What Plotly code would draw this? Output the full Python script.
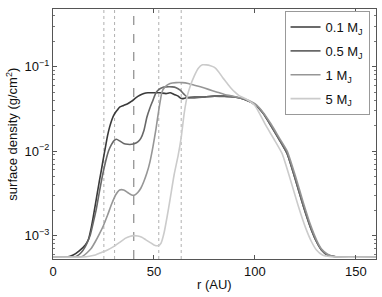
import plotly.graph_objects as go

# ---- data (surface density stored as log10 values) ----
r_01 = [0, 7, 10, 13, 16, 17.5, 19, 20, 21, 22, 23, 24, 25, 26, 27, 28, 29, 30, 31, 32,
        33, 35, 37, 39, 41, 43, 45, 47, 50, 53, 56, 58, 60, 62, 63, 64, 66, 70, 75, 80,
        85, 90, 95, 100, 104, 108, 112, 116, 120, 124, 127.5, 130.5, 133, 136, 140, 144, 160]
lg_01 = [-3.254, -3.254, -3.23, -3.18, -3.11, -3.05, -2.90, -2.77, -2.63, -2.49,
         -2.35, -2.22, -2.08, -1.95, -1.82, -1.72, -1.64, -1.58, -1.54, -1.51,
         -1.48, -1.46, -1.44, -1.41, -1.37, -1.34, -1.32, -1.31, -1.31, -1.31,
         -1.32, -1.31, -1.33, -1.35, -1.37, -1.38, -1.37, -1.36, -1.36, -1.35,
         -1.35, -1.36, -1.39, -1.45, -1.55, -1.70, -1.86, -2.03, -2.33, -2.65,
         -2.90, -3.07, -3.17, -3.23, -3.25, -3.254, -3.254]

r_05 = [0, 10, 12, 14, 16, 17, 18.5, 20, 21.5, 23, 24.5, 26, 27.5, 29, 30.5, 31.5, 33, 35, 37, 39,
        40.5, 42, 43.5, 45, 46.5, 48, 49.5, 51, 52.5, 54, 56, 59, 61, 63, 65, 67, 70, 75, 80, 85,
        90, 95, 100, 104, 108, 112, 116, 120, 124, 127.5, 130.5, 133, 136, 140, 144, 160]
lg_05 = [-3.254, -3.254, -3.24, -3.20, -3.13, -3.08, -2.99, -2.84, -2.68, -2.48,
         -2.29, -2.13, -2.00, -1.92, -1.87, -1.86, -1.88, -1.91, -1.92, -1.92,
         -1.91, -1.89, -1.85, -1.76, -1.60, -1.49, -1.40, -1.31, -1.27, -1.25,
         -1.24, -1.24, -1.25, -1.28, -1.33, -1.37, -1.37, -1.36, -1.35, -1.355,
         -1.36, -1.39, -1.45, -1.55, -1.70, -1.86, -2.03, -2.33, -2.65, -2.90,
         -3.07, -3.17, -3.23, -3.25, -3.254, -3.254]

r_1 = [0, 13, 15, 17, 19, 21, 23, 25, 27, 29, 31, 33, 35, 37, 39, 40.5, 42, 43.5, 45, 46.5,
       48, 49.5, 51, 52.5, 54, 55.5, 58, 61, 64, 67, 70, 73, 77, 81, 85, 89, 93, 97, 100, 104,
       108, 112, 116, 120, 124, 127.5, 130.5, 133, 136, 140, 144, 160]
lg_1 = [-3.254, -3.254, -3.24, -3.20, -3.15, -3.07, -2.98, -2.88, -2.76, -2.63,
        -2.52, -2.46, -2.46, -2.49, -2.52, -2.52, -2.49, -2.44, -2.36, -2.26,
        -2.13, -1.95, -1.74, -1.50, -1.30, -1.24, -1.20, -1.19, -1.19, -1.20,
        -1.22, -1.24, -1.27, -1.30, -1.33, -1.35, -1.37, -1.40, -1.44, -1.54,
        -1.68, -1.84, -2.00, -2.29, -2.61, -2.87, -3.05, -3.16, -3.22, -3.25,
        -3.254, -3.254]

r_5 = [0, 15, 18, 21, 24, 27, 30, 33, 36, 38, 40, 42, 44, 46, 48, 50, 52, 53.5, 55, 56.5,
       58, 60, 62, 63.5, 65, 66.5, 68, 70, 72, 74, 76, 78, 80, 82, 84, 86, 88, 90, 92, 96,
       100, 105.5, 109.5, 113.5, 117.5, 121.5, 125, 128, 130.5, 133.5, 137.5, 141, 160]
lg_5 = [-3.254, -3.254, -3.245, -3.23, -3.20, -3.17, -3.13, -3.08, -3.03, -3.01,
        -3.00, -3.005, -3.02, -3.05, -3.08, -3.11, -3.12, -3.09, -2.97, -2.78,
        -2.57, -2.28, -2.05, -1.84, -1.55, -1.35, -1.23, -1.11, -1.02, -0.98,
        -0.98, -0.99, -1.01, -1.06, -1.13, -1.19, -1.25, -1.30, -1.34, -1.39,
        -1.46, -1.70, -1.86, -2.03, -2.33, -2.65, -2.90, -3.07, -3.17, -3.23,
        -3.25, -3.254, -3.254]

series_names = ["0.1 M<sub>J</sub>", "0.5 M<sub>J</sub>", "1 M<sub>J</sub>", "5 M<sub>J</sub>"]
series_r = [r_01, r_05, r_1, r_5]
series_lg = [lg_01, lg_05, lg_1, lg_5]
series_colors = ["#3a3a3a", "#686868", "#969696", "#cbcbcb"]

planet_r = 40            # dashed line
resonance_r = [25.2, 30.5, 52.4, 63.5]  # dotted lines

x_ticks = [0, 50, 100, 150]
y_ticks = [1e-3, 1e-2, 1e-1]
y_ticktext = ["10<sup>−3</sup>", "10<sup>−2</sup>", "10<sup>−1</sup>"]
y_minor = [k * 10.0 ** e for e in (-4, -3, -2, -1) for k in range(2, 10)]

FONT = "Liberation Sans, Arial, sans-serif"

fig = go.Figure()

for rr in resonance_r:
    fig.add_vline(x=rr, line=dict(color="#b0b0b0", width=1, dash="dot"), layer="below")
fig.add_vline(x=planet_r, line=dict(color="#8a8a8a", width=1.2, dash="dash"), layer="below")

for i, (name, rr, lg, col) in enumerate(zip(series_names, series_r, series_lg, series_colors)):
    fig.add_trace(go.Scatter(
        x=rr, y=[10 ** v for v in lg], mode="lines", name=name, legendgroup=f"g{i}",
        line=dict(color=col, width=1.6, shape="spline", smoothing=0.5),
    ))

axis_common = dict(
    showline=True, linecolor="#555", linewidth=1, mirror="ticks", automargin=False,
    ticks="inside", tickcolor="#555", ticklen=4, showgrid=False, zeroline=False,
    tickfont=dict(family=FONT, size=13, color="#111"),
)

fig.update_xaxes(range=[0, 160], tickvals=x_ticks, **axis_common)
fig.update_yaxes(type="log", range=[-3.277, -0.319], tickvals=y_ticks, ticktext=y_ticktext,
                 minor=dict(tickvals=y_minor, ticks="inside", ticklen=2, tickcolor="#777"),
                 **axis_common)

fig.add_annotation(text="r (AU)", xref="paper", yref="paper", x=0.5, y=-0.102,
                   xanchor="center", yanchor="middle", showarrow=False,
                   font=dict(family=FONT, size=13, color="#111"))
fig.add_annotation(text="surface density (g/cm<sup>2</sup>)", xref="paper", yref="paper",
                   x=-0.128, y=0.5, textangle=-90, xanchor="center", yanchor="middle",
                   showarrow=False, font=dict(family=FONT, size=13, color="#111"))

fig.update_layout(
    width=382, height=297,
    margin=dict(l=53, r=6, t=9, b=38, autoexpand=False),
    paper_bgcolor="white", plot_bgcolor="white",
    font=dict(family=FONT, size=13, color="#111"),
    legend=dict(x=0.98, y=0.992, xanchor="right", yanchor="top",
                bgcolor="white", bordercolor="#999", borderwidth=1,
                font=dict(size=13), itemwidth=30, tracegroupgap=4),
    showlegend=True,
)

fig.write_html("out.html", config={"displayModeBar": False},
               post_script="document.body.style.margin='0';document.body.style.overflow='hidden';")
